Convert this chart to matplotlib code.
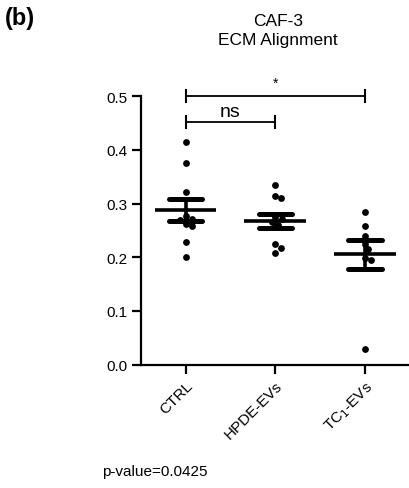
import matplotlib
matplotlib.use('Agg')
import matplotlib.pyplot as plt
import numpy as np

plt.rcParams['font.family'] = ['Liberation Sans', 'DejaVu Sans']

# values (ECM alignment per field)
groups = ['CTRL', 'HPDE-EVs', 'TC$_1$-EVs']
ctrl = [0.414, 0.375, 0.321, 0.276, 0.271, 0.270, 0.262, 0.258, 0.228, 0.200]
hpde = [0.334, 0.314, 0.310, 0.275, 0.272, 0.265, 0.260, 0.224, 0.217, 0.208]
tc1 = [0.284, 0.259, 0.239, 0.225, 0.215, 0.198, 0.195, 0.029]
data = [ctrl, hpde, tc1]

yticks = [0.0, 0.1, 0.2, 0.3, 0.4, 0.5]
brackets = [(0, 1, 0.452, 'ns'), (0, 2, 0.5, '*')]
pvalue = 'p-value=0.0425'


def swarm(ax, x0, vals, diam=6.3):
    # simple beeswarm: shift points sideways (in pixels) until no overlap
    placed = []
    xs = []
    for v in vals:
        px, py = ax.transData.transform((x0, v))
        for k in range(0, 60):
            for sgn in (1, -1):
                cand = px + sgn * k * 0.5
                if all((cand - qx) ** 2 + (py - qy) ** 2 >= diam ** 2 for qx, qy in placed):
                    break
            else:
                continue
            break
        placed.append((cand, py))
        xs.append(ax.transData.inverted().transform((cand, py))[0])
    return xs


fig = plt.figure(figsize=(4.09, 4.89), dpi=100)
ax = fig.add_axes([0.344, 0.2522, 0.658, 0.549])
ax.set_xlim(-0.5, 2.5)
ax.set_ylim(0, 0.5)

for i, vals in enumerate(data):
    vals = sorted(vals, reverse=True)
    xs = swarm(ax, i, vals)
    ax.scatter(xs, vals, s=24, color='black', zorder=3, clip_on=False, linewidths=0)
    m = np.mean(vals)
    sem = np.std(vals, ddof=1) / np.sqrt(len(vals))
    ax.hlines(m, i - 0.345, i + 0.345, color='black', lw=2.6, zorder=4)
    ax.vlines(i, m - sem, m + sem, color='black', lw=2.6, zorder=4)
    ax.hlines([m - sem, m + sem], i - 0.185, i + 0.185, color='black', lw=3.6,
              zorder=4, capstyle='round')

# significance brackets
for a, b, y, lab in brackets:
    ax.plot([a, b], [y, y], color='black', lw=1.3, clip_on=False)
    for xx in (a, b):
        ax.plot([xx, xx], [y - 0.011, y + 0.011], color='black', lw=1.5, clip_on=False)
    if lab == '*':
        ax.text((a + b) / 2, y + 0.012, lab, ha='center', va='bottom', fontsize=10)
    else:
        ax.text((a + b) / 2, y + 0.004, lab, ha='center', va='bottom', fontsize=14)

for s in ['top', 'right']:
    ax.spines[s].set_visible(False)
for s in ['left', 'bottom']:
    ax.spines[s].set_linewidth(1.6)

ax.set_yticks(yticks)
ax.set_yticklabels(['%.1f' % t for t in yticks])
ax.set_xticks(range(len(groups)))
ax.set_xticklabels(groups, rotation=45, ha='right', rotation_mode='anchor')
ax.tick_params(axis='both', length=6.5, width=1.6, labelsize=11, pad=3)

fig.text(0.68, 0.937, 'CAF-3\nECM Alignment', ha='center', va='center',
         fontsize=12.5, linespacing=1.3)
fig.text(0.012, 0.962, '(b)', ha='left', va='center', fontsize=17, fontweight='bold')
fig.text(0.25, 0.035, pvalue, ha='left', va='center', fontsize=11)

plt.savefig('out.png', dpi=100)
